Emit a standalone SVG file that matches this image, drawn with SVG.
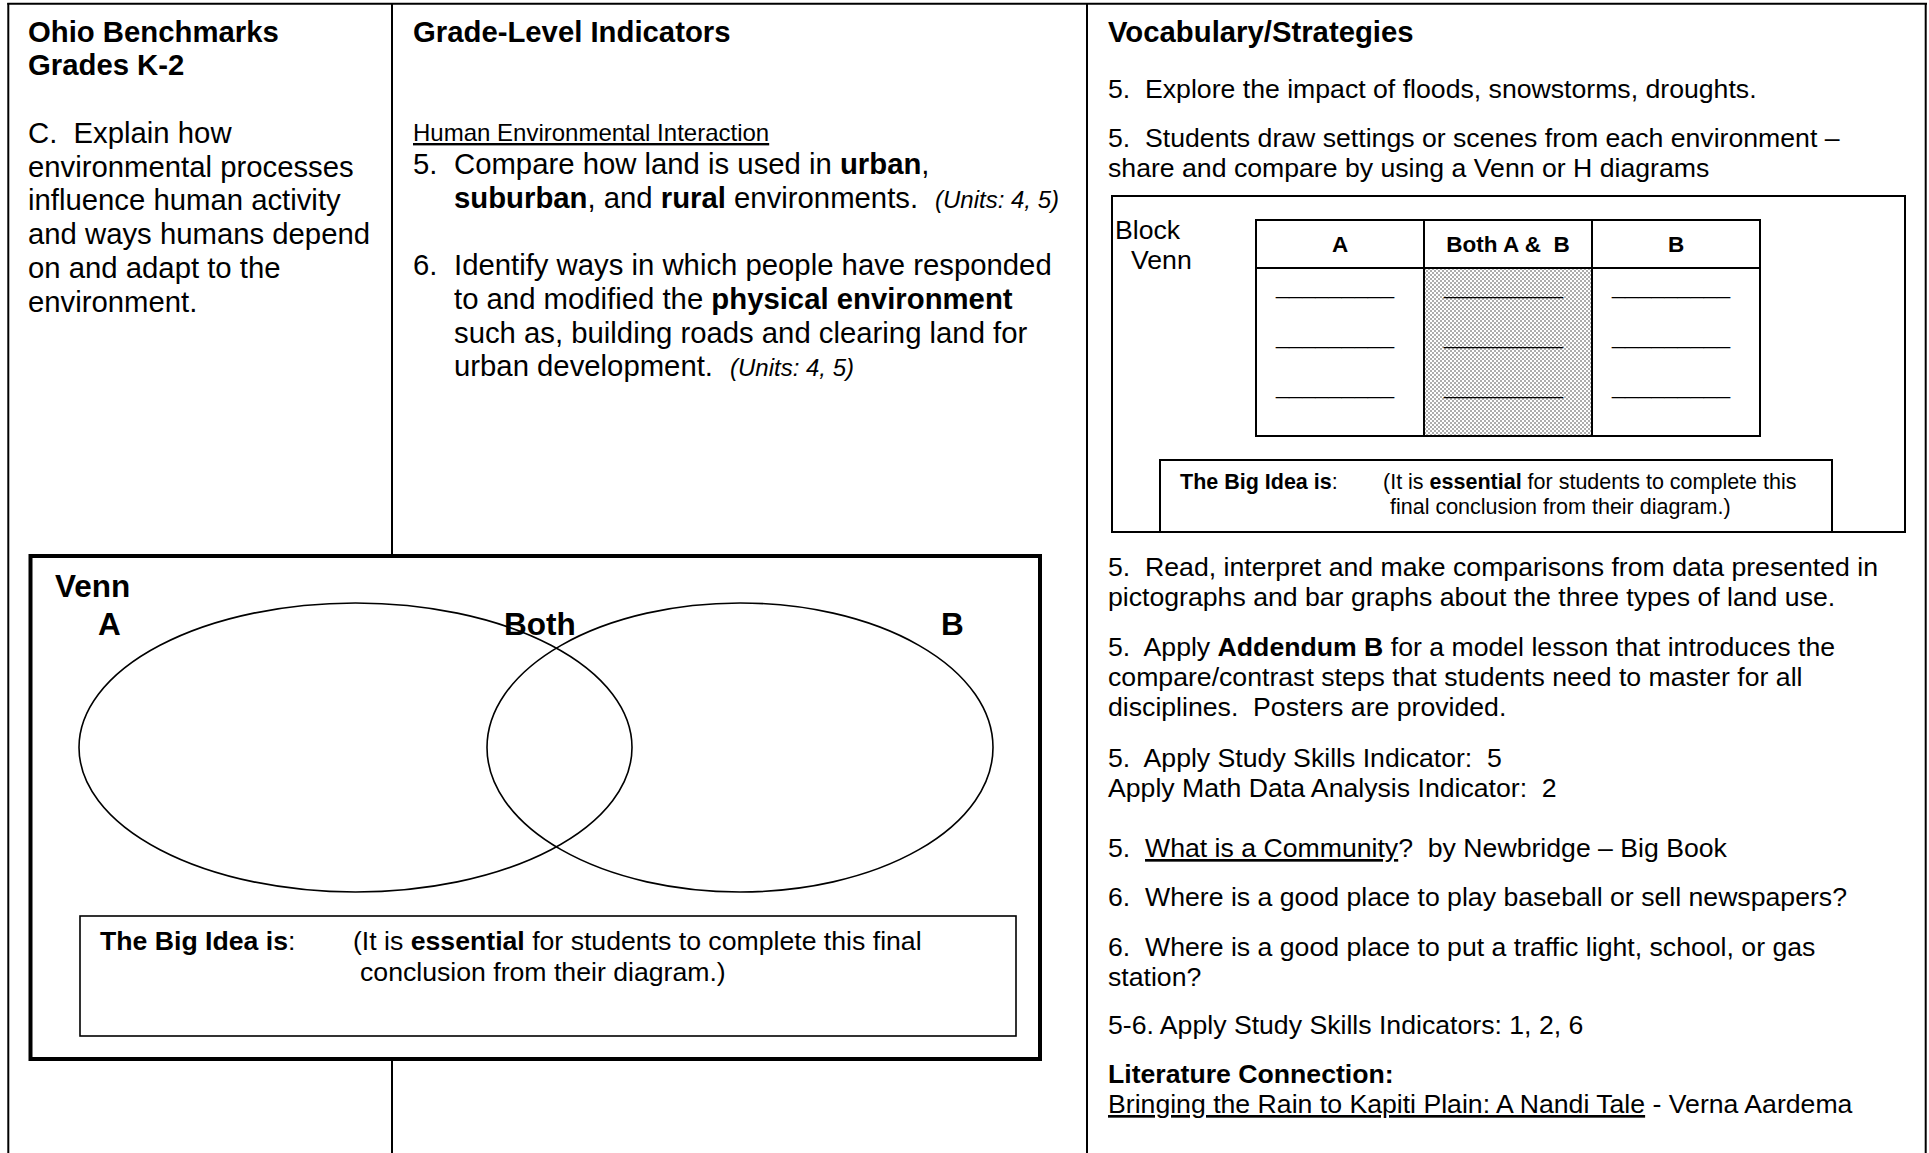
<svg xmlns="http://www.w3.org/2000/svg" width="1929" height="1153" viewBox="0 0 1929 1153">
<style>
text{font-family:"Liberation Sans",Arial,sans-serif;fill:#000}
.b{font-weight:bold}
.i{font-style:italic}
.u{text-decoration:underline}
.f29{font-size:29.3px}
.f27{font-size:26.65px}
.f24{font-size:24px}
.f22{font-size:22.5px}
.f21{font-size:21.5px}
.f31{font-size:31.5px}
.ln{stroke:#000;stroke-width:2;fill:none}
.thick{stroke:#000;stroke-width:4;fill:none}
.thin{stroke:#000;stroke-width:1.6;fill:none}
</style>
<defs>
<pattern id="dots" width="4" height="4" patternUnits="userSpaceOnUse">
<rect width="4" height="4" fill="#fff"/>
<circle cx="1" cy="1" r="0.75" fill="#333"/>
<circle cx="3" cy="3" r="0.75" fill="#333"/>
</pattern>
</defs>
<rect width="1929" height="1153" fill="#fff"/>

<g id="connectors">
<line class="ln" x1="7.3" y1="3.7" x2="1927" y2="3.7"/>
<line class="ln" x1="8.3" y1="3" x2="8.3" y2="1153"/>
<line class="ln" x1="1925.7" y1="3" x2="1925.7" y2="1153"/>
<line class="ln" x1="392" y1="3" x2="392" y2="556"/>
<line class="ln" x1="392" y1="1058" x2="392" y2="1153"/>
<line class="ln" x1="1087" y1="3" x2="1087" y2="1153"/>
</g>

<g id="col-benchmarks">
<text class="f29 b" x="28" y="41.5">Ohio Benchmarks</text>
<text class="f29 b" x="28" y="75.2">Grades K-2</text>
<text class="f29" x="28" y="143" xml:space="preserve">C.  Explain how</text>
<text class="f29" x="28" y="176.7">environmental processes</text>
<text class="f29" x="28" y="210.4">influence human activity</text>
<text class="f29" x="28" y="244.1">and ways humans depend</text>
<text class="f29" x="28" y="277.8">on and adapt to the</text>
<text class="f29" x="28" y="311.5">environment.</text>
</g>

<g id="col-indicators">
<text class="f29 b" x="413" y="41.5">Grade-Level Indicators</text>
<text class="f24 u" x="413" y="141">Human Environmental Interaction</text>
<text class="f29" x="413" y="174">5.</text>
<text class="f29" x="454" y="174">Compare how land is used in <tspan class="b">urban</tspan>,</text>
<text class="f29" x="454" y="207.7"><tspan class="b">suburban</tspan>, and <tspan class="b">rural</tspan> environments.</text>
<text class="f24 i" x="935" y="207.7">(Units: 4, 5)</text>
<text class="f29" x="413" y="275">6.</text>
<text class="f29" x="454" y="275">Identify ways in which people have responded</text>
<text class="f29" x="454" y="308.8">to and modified the <tspan class="b">physical environment</tspan></text>
<text class="f29" x="454" y="342.5">such as, building roads and clearing land for</text>
<text class="f29" x="454" y="376.2">urban development.</text>
<text class="f24 i" x="730" y="376.2">(Units: 4, 5)</text>
</g>

<g id="venn">
<rect class="thick" x="30.5" y="556" width="1009.5" height="503"/>
<text class="f31 b" x="55" y="597">Venn</text>
<text class="f31 b" x="98" y="635">A</text>
<ellipse class="thin" cx="355.5" cy="747.5" rx="276.5" ry="144.5"/>
<ellipse class="thin" cx="740" cy="747.5" rx="253" ry="144.5"/>
<text class="f31 b" x="504" y="635">Both</text>
<text class="f31 b" x="941" y="635">B</text>
<rect class="thin" x="80" y="916" width="936" height="120"/>
<text class="f27" x="100" y="950"><tspan class="b">The Big Idea is</tspan>:</text>
<text class="f27" x="353" y="950">(It is <tspan class="b">essential</tspan> for students to complete this final</text>
<text class="f27" x="360" y="981">conclusion from their diagram.)</text>
</g>

<g id="col-strategies">
<text class="f29 b" x="1108" y="41.5">Vocabulary/Strategies</text>
<text class="f27" x="1108" y="97.5" xml:space="preserve">5.  Explore the impact of floods, snowstorms, droughts.</text>
<text class="f27" x="1108" y="147" xml:space="preserve">5.  Students draw settings or scenes from each environment –</text>
<text class="f27" x="1108" y="177">share and compare by using a Venn or H diagrams</text>
<text class="f27" x="1108" y="576" xml:space="preserve">5.  Read, interpret and make comparisons from data presented in</text>
<text class="f27" x="1108" y="606">pictographs and bar graphs about the three types of land use.</text>
<text class="f27" x="1108" y="656" xml:space="preserve">5.  Apply <tspan class="b">Addendum B</tspan> for a model lesson that introduces the</text>
<text class="f27" x="1108" y="686">compare/contrast steps that students need to master for all</text>
<text class="f27" x="1108" y="716" xml:space="preserve">disciplines.  Posters are provided.</text>
<text class="f27" x="1108" y="766.5" xml:space="preserve">5.  Apply Study Skills Indicator:  5</text>
<text class="f27" x="1108" y="796.5" xml:space="preserve">Apply Math Data Analysis Indicator:  2</text>
<text class="f27" x="1108" y="857" xml:space="preserve">5.  <tspan class="u">What is a Community</tspan>?  by Newbridge – Big Book</text>
<text class="f27" x="1108" y="906" xml:space="preserve">6.  Where is a good place to play baseball or sell newspapers?</text>
<text class="f27" x="1108" y="955.5" xml:space="preserve">6.  Where is a good place to put a traffic light, school, or gas</text>
<text class="f27" x="1108" y="986">station?</text>
<text class="f27" x="1108" y="1034">5-6. Apply Study Skills Indicators: 1, 2, 6</text>
<text class="f27 b" x="1108" y="1083">Literature Connection:</text>
<text class="f27" x="1108" y="1113" xml:space="preserve"><tspan class="u">Bringing the Rain to Kapiti Plain: A Nandi Tale</tspan> - Verna Aardema</text>
</g>

<g id="block-venn">
<rect class="ln" x="1112" y="196" width="793" height="336"/>
<text class="f27" x="1115" y="239">Block</text>
<text class="f27" x="1131" y="269">Venn</text>
<rect x="1424" y="268" width="168" height="168" fill="url(#dots)"/>
<rect class="ln" x="1256" y="220" width="504" height="216"/>
<line class="ln" x1="1256" y1="268" x2="1760" y2="268"/>
<line class="ln" x1="1424" y1="220" x2="1424" y2="436"/>
<line class="ln" x1="1592" y1="220" x2="1592" y2="436"/>
<text class="f22 b" x="1340" y="252" text-anchor="middle">A</text>
<text class="f22 b" x="1508" y="252" text-anchor="middle" xml:space="preserve">Both A &amp;  B</text>
<text class="f22 b" x="1676" y="252" text-anchor="middle">B</text>
<text class="f22" x="1276" y="294" textLength="118" lengthAdjust="spacingAndGlyphs">_________</text>
<text class="f22" x="1276" y="344" textLength="118" lengthAdjust="spacingAndGlyphs">_________</text>
<text class="f22" x="1276" y="394" textLength="118" lengthAdjust="spacingAndGlyphs">_________</text>
<text class="f22" x="1444" y="294" textLength="119" lengthAdjust="spacingAndGlyphs">_________</text>
<text class="f22" x="1444" y="344" textLength="119" lengthAdjust="spacingAndGlyphs">_________</text>
<text class="f22" x="1444" y="394" textLength="119" lengthAdjust="spacingAndGlyphs">_________</text>
<text class="f22" x="1612" y="294" textLength="118" lengthAdjust="spacingAndGlyphs">_________</text>
<text class="f22" x="1612" y="344" textLength="118" lengthAdjust="spacingAndGlyphs">_________</text>
<text class="f22" x="1612" y="394" textLength="118" lengthAdjust="spacingAndGlyphs">_________</text>
<rect class="ln" x="1160" y="460" width="672" height="72"/>
<text class="f21" x="1180" y="489"><tspan class="b">The Big Idea is</tspan>:</text>
<text class="f21" x="1383" y="489">(It is <tspan class="b">essential</tspan> for students to complete this</text>
<text class="f21" x="1390" y="514">final conclusion from their diagram.)</text>
</g>
</svg>
